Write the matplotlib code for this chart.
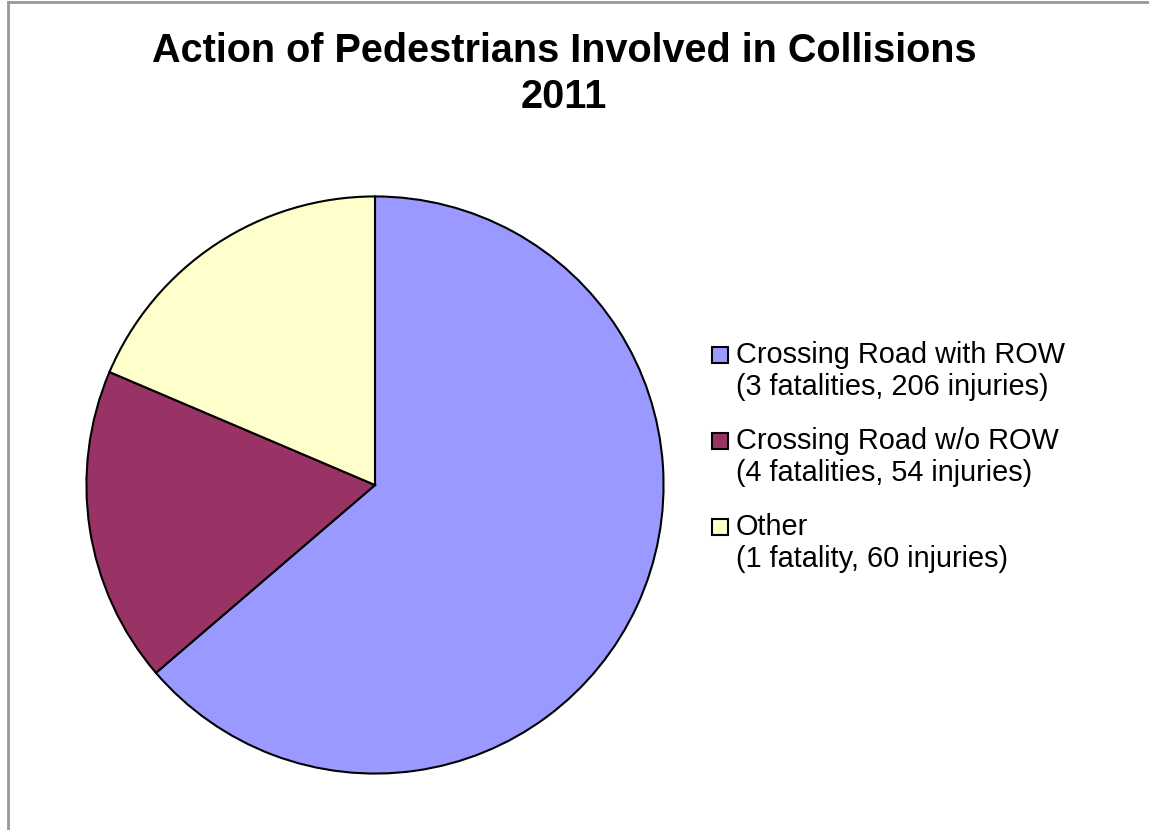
import matplotlib
matplotlib.use('Agg')
import matplotlib.pyplot as plt
from matplotlib.patches import Rectangle
from matplotlib.lines import Line2D

# pedestrian actions, 2011
categories = ['Crossing Road with ROW', 'Crossing Road w/o ROW', 'Other']
fatalities = [3, 4, 1]
injuries = [206, 54, 60]
details = ['(3 fatalities, 206 injuries)',
           '(4 fatalities, 54 injuries)',
           '(1 fatality, 60 injuries)']
colors = ['#9999FF', '#993366', '#FFFFCC']

totals = [f + i for f, i in zip(fatalities, injuries)]

W, H = 1149, 830
fig = plt.figure(figsize=(W / 100, H / 100), dpi=100)
plt.rcParams['font.family'] = ['Liberation Sans', 'DejaVu Sans']

# pie area in pixel units -> figure fraction
cx, cy, r = 375, 485, 290
ax = fig.add_axes([(cx - r) / W, (H - cy - r) / H, 2 * r / W, 2 * r / H])
ax.pie(totals, colors=colors, startangle=90, counterclock=False,
       wedgeprops=dict(edgecolor='black', linewidth=1.5))
ax.set_xlim(-1.005, 1.005)
ax.set_ylim(-1.005, 1.005)
ax.set_aspect('equal')
ax.axis('off')

# title
fig.text(564 / W, 1 - 51 / H, 'Action of Pedestrians Involved in Collisions',
         ha='center', va='center', fontsize=28.5, fontweight='bold')
fig.text(564 / W, 1 - 97 / H, '2011',
         ha='center', va='center', fontsize=28.5, fontweight='bold')

# legend, drawn by hand so the box sits on the first line
y0, step, gap = 355, 86, 32
for k, (name, det, col) in enumerate(zip(categories, details, colors)):
    y = y0 + k * step
    fig.patches.append(Rectangle((712 / W, 1 - (y + 8) / H), 16 / W, 16 / H,
                                 facecolor=col, edgecolor='black', linewidth=1.5,
                                 transform=fig.transFigure, figure=fig))
    fig.text(736 / W, 1 - y / H, name, ha='left', va='center', fontsize=20.8)
    fig.text(736 / W, 1 - (y + gap) / H, det, ha='left', va='center', fontsize=20.8)

# chart area frame (top and left edges only visible)
fig.lines.append(Line2D([7.5 / W, 7.5 / W], [0, 1 - 2.5 / H], color='#999999',
                        linewidth=2, transform=fig.transFigure, figure=fig))
fig.lines.append(Line2D([7.5 / W, 1], [1 - 2.5 / H, 1 - 2.5 / H], color='#999999',
                        linewidth=2, transform=fig.transFigure, figure=fig))

fig.savefig('out.png', dpi=100)
